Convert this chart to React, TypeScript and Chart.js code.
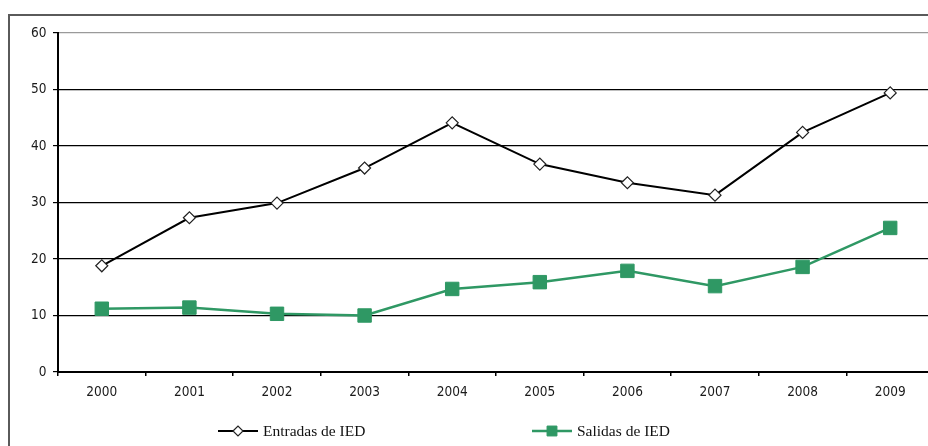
import { useEffect, useRef } from 'react';
import { Chart, registerables } from 'chart.js';
import { drawPoint } from 'chart.js/helpers';

Chart.register(...registerables);

const years = ['2000', '2001', '2002', '2003', '2004', '2005', '2006', '2007', '2008', '2009'];
const entradas = [18.8, 27.3, 29.9, 36.1, 44.1, 36.8, 33.5, 31.3, 42.4, 49.4];
const salidas = [11.2, 11.4, 10.3, 10.0, 14.7, 15.9, 17.9, 15.2, 18.6, 25.5];
const seriesNames = ['Entradas de IED', 'Salidas de IED'];

const GREEN = '#2f9864';
const TICK_FONT = '"DejaVu Sans Condensed", "DejaVu Sans", sans-serif';

const framePlugin = {
  id: 'frame',
  beforeDraw(chart: any) {
    const ctx = chart.ctx;
    ctx.save();
    ctx.fillStyle = '#ffffff';
    ctx.fillRect(0, 0, chart.width, chart.height);
    ctx.strokeStyle = '#5a5a5a';
    ctx.lineWidth = 2;
    ctx.strokeRect(1, 7, chart.width + 40, chart.height + 40);
    ctx.restore();
  },
};

const legendPlugin = {
  id: 'customLegend',
  afterDraw(chart: any, _args: any, opts: any) {
    const ctx = chart.ctx;
    chart.data.datasets.forEach((ds: any, i: number) => {
      const x = opts.xs[i];
      const y = opts.y;
      ctx.save();
      ctx.strokeStyle = ds.borderColor;
      ctx.lineWidth = ds.borderWidth;
      ctx.beginPath();
      ctx.moveTo(x, y);
      ctx.lineTo(x + opts.lineLen, y);
      ctx.stroke();
      ctx.fillStyle = ds.pointBackgroundColor;
      ctx.strokeStyle = ds.pointBorderColor;
      ctx.lineWidth = ds.pointBorderWidth;
      drawPoint(ctx, { pointStyle: ds.pointStyle, radius: opts.radii[i], borderWidth: ds.pointBorderWidth, rotation: 0 } as any, x + opts.lineLen / 2, y);
      ctx.fillStyle = '#111';
      ctx.font = '15.5px "Liberation Serif"';
      ctx.textBaseline = 'middle';
      ctx.textAlign = 'left';
      ctx.fillText(ds.label, x + opts.lineLen + 5, y + 1);
      ctx.restore();
    });
  },
};

export default function App() {
  const ref = useRef<HTMLCanvasElement | null>(null);

  useEffect(() => {
    document.documentElement.style.overflow = 'hidden';
    document.body.style.overflow = 'hidden';
    document.body.style.margin = '8px 0 0 8px';
    const canvas = ref.current;
    if (!canvas) return;
    const chart = new Chart(canvas, {
      type: 'line',
      data: {
        labels: years,
        datasets: [
          {
            label: seriesNames[0],
            data: entradas,
            borderColor: '#000',
            borderWidth: 2,
            pointStyle: 'rectRot',
            pointRadius: 6,
            pointBackgroundColor: '#fff',
            pointBorderColor: '#222',
            pointBorderWidth: 1.2,
            tension: 0,
          },
          {
            label: seriesNames[1],
            data: salidas,
            borderColor: GREEN,
            borderWidth: 2.5,
            pointStyle: 'rect',
            pointRadius: 9.5,
            pointBackgroundColor: GREEN,
            pointBorderColor: GREEN,
            pointBorderWidth: 1,
            tension: 0,
          },
        ],
      },
      options: {
        responsive: false,
        animation: false,
        devicePixelRatio: 1,
        layout: { padding: { left: 0, top: 25, right: 14, bottom: 49 } },
        plugins: {
          legend: { display: false },
          tooltip: { enabled: false },
          customLegend: { xs: [210, 524], y: 423, lineLen: 40, radii: [5, 7] },
        } as any,
        scales: {
          x: {
            offset: true,
            grid: { offset: true, drawOnChartArea: false, drawTicks: true, tickLength: 4, color: '#000', lineWidth: 1.5 },
            border: { color: '#000', width: 2 },
            ticks: { color: '#1a1a1a', padding: 8.5, font: { family: TICK_FONT, size: 13.5 }, maxRotation: 0 },
            afterFit: (s: any) => { s.height = 25; },
          },
          y: {
            min: 0,
            max: 60,
            ticks: { stepSize: 10, color: '#1a1a1a', padding: 6.5, font: { family: TICK_FONT, size: 13.5 } },
            grid: {
              color: (c: any) => (c.tick && c.tick.value === 60 ? '#9a9a9a' : '#000'),
              tickColor: '#000',
              lineWidth: 1.2,
              tickLength: 5,
            },
            border: { color: '#000', width: 2 },
            afterFit: (s: any) => { s.width = 50; },
          },
        },
      },
      plugins: [framePlugin, legendPlugin],
    });
    return () => chart.destroy();
  }, []);

  return (
    <div style={{ position: 'relative', width: 920, height: 438, overflow: 'hidden' }}>
      <canvas ref={ref} width={940} height={438} style={{ display: 'block', width: 940, height: 438 }} />
    </div>
  );
}
